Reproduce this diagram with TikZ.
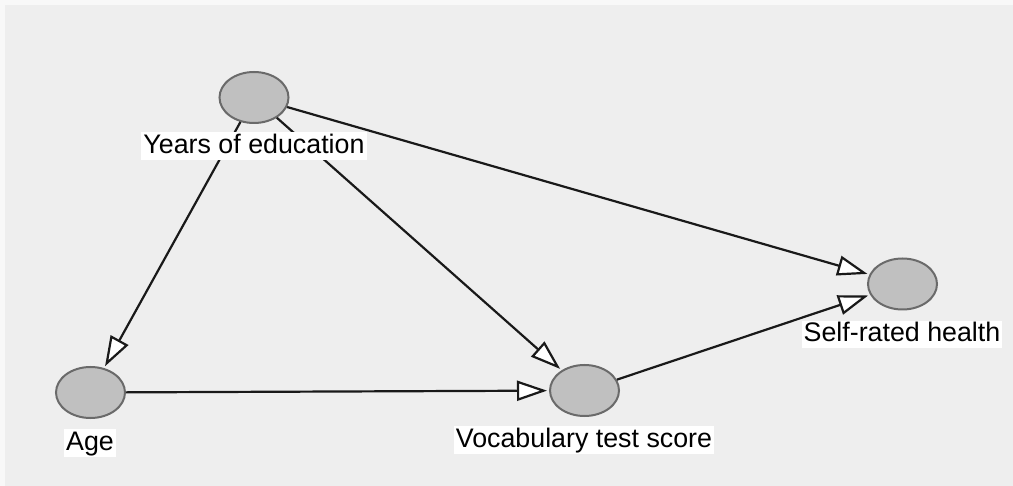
\documentclass[tikz,border=0pt]{standalone}
\usepackage{fontspec}
\setmainfont{Liberation Sans}
\usetikzlibrary{arrows.meta,shapes.geometric}
\definecolor{pagebg}{HTML}{F8F8F8}
\definecolor{panelbg}{HTML}{EEEEEE}
\definecolor{varfill}{HTML}{C0C0C0}
\definecolor{varedge}{HTML}{6A6A6A}
\tikzset{
  var/.style={ellipse, draw=varedge, fill=varfill, line width=2pt,
    minimum width=69pt, minimum height=51pt, inner sep=0pt},
  varlabel/.style={fill=white, inner xsep=2pt, inner ysep=1.5pt,
    text height=19.5pt, text depth=5pt,
    font=\fontsize{26.8pt}{30pt}\selectfont},
  effect/.style={line width=2.2pt, draw=black!90,
    -{Triangle[open, length=30pt, width=20pt, fill=white, line width=2.2pt]},
    shorten >=2pt}
}
\begin{document}
\begin{tikzpicture}[x=1pt, y=-1pt]
  % page and panel
  \fill[pagebg] (0,0) rectangle (1013,486);
  \fill[panelbg] (5,5) rectangle (1013,486);
  \useasboundingbox (0,0) rectangle (1013,486);

  % variables
  \node[var] (edu) at (254,97.5) {};
  \node[var] (health) at (902.5,284) {};
  \node[var] (age) at (90.5,392.5) {};
  \node[var] (vocab) at (584.5,390.5) {};

  % causal paths
  \draw[effect] (edu) -- (health);
  \draw[effect] (vocab) -- (health);
  \draw[effect] (edu) -- (age);
  \draw[effect] (edu) -- (vocab);
  \draw[effect] (age) -- (vocab);

  % labels drawn on top of the paths
  \node[varlabel] (eduL) at (254,146) {Years of education};
  \node[varlabel] (healthL) at (902,334.5) {Self-rated health};
  \node[varlabel] (ageL) at (90,443) {Age};
  \node[varlabel] (vocabL) at (584,440) {Vocabulary test score};
\end{tikzpicture}
\end{document}
